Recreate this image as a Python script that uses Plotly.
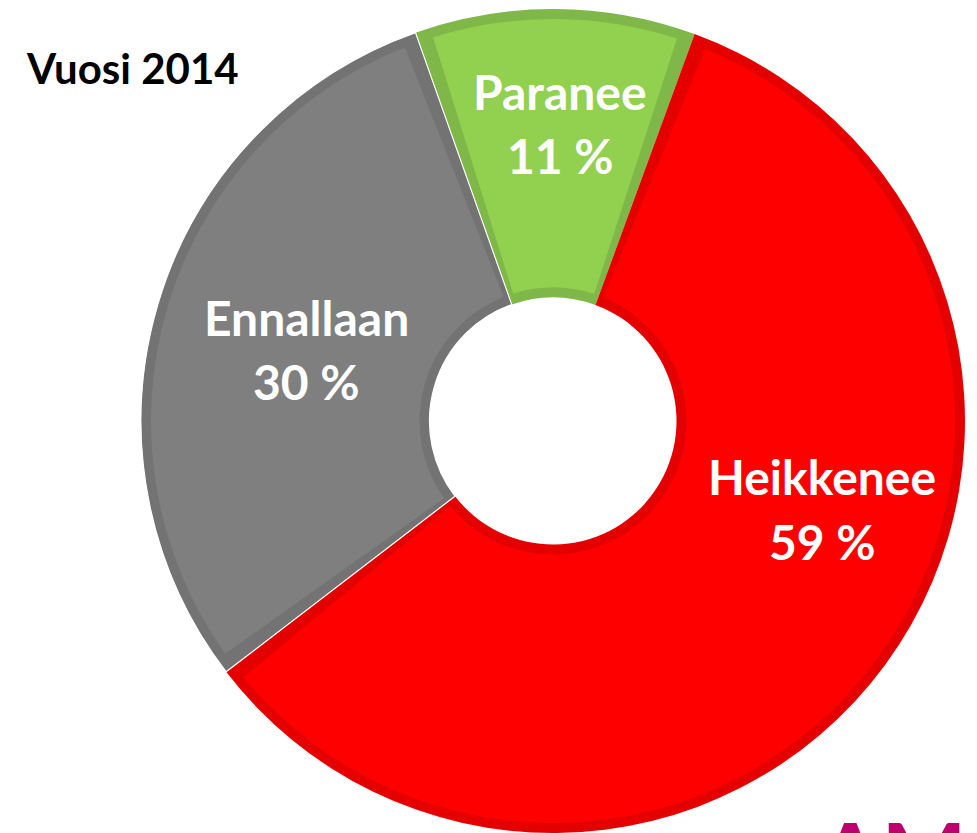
import math
import plotly.graph_objects as go

# ---- data ----
labels = ["Paranee", "Heikkenee", "Ennallaan"]
values = [11, 59, 30]
title_text = "Vuosi 2014"
logo_text = "AM"

# ---- style ----
fill_colors = ["#92D050", "#FF0000", "#7F7F7F"]
edge_colors = ["#7FB848", "#E50000", "#737373"]
sep_widths = [0, 0, 1.2]   # white separator only around the grey slice
W, H = 977, 833
cx, cy = 553, 421          # pie centre (px, from top-left)
R, r_hole = 412, 123.5     # outer radius / hole radius (px)
band = 10                  # darker inner border width (px)
start_angle = -19.5
FONT = "Lato"
LABEL_SIZE = 48

# label anchor points (px from top-left): (x, y_line1, y_line2)
label_pos = [(560, 91, 155), (822, 476, 541), (306, 317, 381)]

fig = go.Figure()

# darker base ring (gives the inner border look)
fig.add_trace(go.Pie(
    values=values, labels=labels, sort=False, direction="clockwise",
    rotation=start_angle, hole=r_hole / R,
    marker=dict(colors=edge_colors, line=dict(color="white", width=sep_widths)),
    textinfo="none", hoverinfo="skip", showlegend=False,
    domain=dict(x=[(cx - R) / W, (cx + R) / W],
                y=[(H - cy - R) / H, (H - cy + R) / H]),
))

# lighter inset slices
R2 = R - band
r2 = r_hole + band
total = sum(values)
g = band / ((R2 + r2) / 2) / (2 * math.pi) * total
top_vals, top_cols = [g], ["rgba(0,0,0,0)"]
for i, v in enumerate(values):
    top_vals.append(v - 2 * g)
    top_cols.append(fill_colors[i])
    top_vals.append(2 * g if i < len(values) - 1 else g)
    top_cols.append("rgba(0,0,0,0)")

fig.add_trace(go.Pie(
    values=top_vals, sort=False, direction="clockwise",
    rotation=start_angle, hole=r2 / R2,
    marker=dict(colors=top_cols, line=dict(width=0)),
    textinfo="none", hoverinfo="skip", showlegend=False,
    domain=dict(x=[(cx - R2) / W, (cx + R2) / W],
                y=[(H - cy - R2) / H, (H - cy + R2) / H]),
))

annotations = []
for i, lab in enumerate(labels):
    x, y1, y2 = label_pos[i]
    for txt, yy in ((lab, y1), (f"{values[i]} %", y2)):
        annotations.append(dict(
            text=f"<b>{txt}</b>", x=x / W, y=1 - yy / H,
            xref="paper", yref="paper", xanchor="center", yanchor="middle",
            showarrow=False, font=dict(family=FONT, size=LABEL_SIZE, color="white"),
        ))

annotations.append(dict(
    text=f"<b>{title_text}</b>", x=24 / W, y=1 - 68 / H,
    xref="paper", yref="paper", xanchor="left", yanchor="middle",
    showarrow=False, font=dict(family=FONT, size=42, color="black"),
))

annotations.append(dict(
    text=f"<b>{logo_text}</b>", x=892 / W, y=1 - 797 / H,
    xref="paper", yref="paper", xanchor="center", yanchor="top",
    showarrow=False, font=dict(family=FONT, size=90, color="#BE006E"),
))

fig.update_layout(
    width=W, height=H,
    margin=dict(l=0, r=0, t=0, b=0),
    paper_bgcolor="white", plot_bgcolor="white",
    annotations=annotations,
    showlegend=False,
)

fig.write_html(
    "out.html",
    config={"displayModeBar": False},
    post_script="document.body.style.margin='0px';"
                "document.documentElement.style.overflow='hidden';",
)
